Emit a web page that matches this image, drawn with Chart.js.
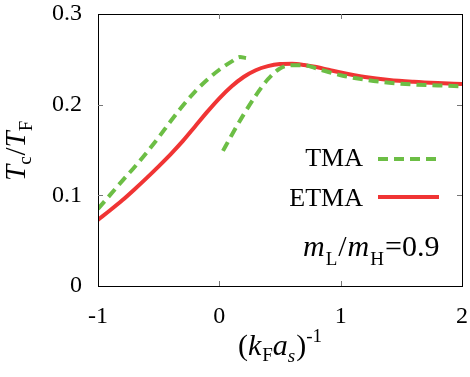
<!DOCTYPE html>
<html>
<head>
<meta charset="utf-8">
<script src="https://cdn.jsdelivr.net/npm/chart.js@4"></script>
</head>
<body style="margin:0">
<canvas id="chart" width="470" height="377"></canvas>
<script>
// ETMA curve
const etmaX = [-1, -0.9, -0.8, -0.7, -0.6, -0.5, -0.4, -0.3, -0.2, -0.1, 0, 0.1, 0.2, 0.3, 0.4, 0.5, 0.6, 0.7, 0.8, 0.9, 1.0, 1.2, 1.4, 1.6, 1.8, 2.0]
const etmaY = [0.073, 0.0835, 0.0945, 0.1065, 0.119, 0.132, 0.1455, 0.160, 0.176, 0.192, 0.207, 0.220, 0.2305, 0.238, 0.2425, 0.2448, 0.2452, 0.2438, 0.2415, 0.2385, 0.2355, 0.2305, 0.2272, 0.2252, 0.2238, 0.2228]
// TMA, two branches
const tmaUpperX = [-1, -0.9, -0.8, -0.7, -0.6, -0.5, -0.4, -0.3, -0.2, -0.1, 0, 0.1, 0.17, 0.22]
const tmaUpperY = [0.085, 0.1005, 0.116, 0.131, 0.147, 0.164, 0.182, 0.199, 0.2145, 0.2275, 0.2385, 0.2475, 0.2525, 0.2515]
const tmaLowerX = [0.03, 0.1, 0.2, 0.3, 0.4, 0.5, 0.6, 0.7, 0.8, 0.9, 1.0, 1.2, 1.4, 1.6, 1.8, 2.0]
const tmaLowerY = [0.149, 0.166, 0.189, 0.210, 0.228, 0.240, 0.2435, 0.2435, 0.240, 0.236, 0.2325, 0.2275, 0.2242, 0.2222, 0.2212, 0.2203]
const xTicks = [-1, 0, 1, 2]
const yTicks = [0, 0.1, 0.2, 0.3]

const green = '#6cbe45'
const red = '#f03434'
const fam = '"Liberation Serif"'

const pts = (xs, ys) => xs.map((x, i) => ({x: x, y: ys[i]}))

// draw a run of text pieces (italic / sub / sup), return width
function rich(ctx, parts, x, y, measureOnly) {
    let cx = x
    parts.forEach(p => {
        ctx.font = (p.it ? 'italic ' : '') + p.size + 'px ' + fam
        if (!measureOnly) ctx.fillText(p.t, cx, y + (p.dy || 0))
        cx += ctx.measureText(p.t).width + (p.gap || 0)
    })
    return cx - x
}

const decor = {
    id: 'decor',
    afterDatasetsDraw(chart) {
        const ctx = chart.ctx
        const a = chart.chartArea
        const xs = chart.scales.x, ys = chart.scales.y
        ctx.save()
        // frame
        ctx.strokeStyle = '#000'
        ctx.lineWidth = 1
        ctx.strokeRect(Math.round(a.left) + 0.5, Math.round(a.top) + 0.5, Math.round(a.right - a.left), Math.round(a.bottom - a.top))
        // inner ticks
        ctx.strokeStyle = '#777'
        ctx.beginPath()
        xTicks.slice(1, -1).forEach(v => {
            const px = Math.round(xs.getPixelForValue(v)) + 0.5
            ctx.moveTo(px, a.bottom); ctx.lineTo(px, a.bottom - 5)
            ctx.moveTo(px, a.top); ctx.lineTo(px, a.top + 5)
        })
        yTicks.slice(1, -1).forEach(v => {
            const py = Math.round(ys.getPixelForValue(v)) + 0.5
            ctx.moveTo(a.left, py); ctx.lineTo(a.left + 5, py)
            ctx.moveTo(a.right, py); ctx.lineTo(a.right - 5, py)
        })
        ctx.stroke()

        ctx.fillStyle = '#000'
        ctx.textBaseline = 'alphabetic'
        // legend
        ctx.font = '26px ' + fam
        ctx.textAlign = 'right'
        ctx.fillText('TMA', 363, 166)
        ctx.fillText('ETMA', 363, 206)
        ctx.textAlign = 'left'
        ctx.lineWidth = 4
        ctx.strokeStyle = green
        ctx.setLineDash([10, 6])
        ctx.beginPath(); ctx.moveTo(378, 159); ctx.lineTo(439, 159); ctx.stroke()
        ctx.setLineDash([])
        ctx.strokeStyle = red
        ctx.beginPath(); ctx.moveTo(378, 197); ctx.lineTo(439, 197); ctx.stroke()

        // m_L/m_H=0.9
        rich(ctx, [
            {t: 'm', it: true, size: 30, gap: 1},
            {t: 'L', size: 19, dy: 9, gap: 1},
            {t: '/', size: 30, gap: 1},
            {t: 'm', it: true, size: 30, gap: 1},
            {t: 'H', size: 19, dy: 9, gap: 1},
            {t: '=0.9', size: 30}
        ], 303, 256)

        // x title
        const xParts = [
            {t: '(', size: 30},
            {t: 'k', it: true, size: 30, gap: 1},
            {t: 'F', size: 19, dy: 6},
            {t: 'a', it: true, size: 30},
            {t: 's', it: true, size: 19, dy: 7, gap: 1},
            {t: ')', size: 30},
            {t: '-1', size: 19, dy: -13}
        ]
        const w = rich(ctx, xParts, 0, 0, true)
        rich(ctx, xParts, (a.left + a.right) / 2 - w / 2, 355)

        // y title
        ctx.translate(25, 181)
        ctx.rotate(-Math.PI / 2)
        rich(ctx, [
            {t: 'T', it: true, size: 29},
            {t: 'c', size: 19, dy: 6, gap: 1},
            {t: '/', size: 29},
            {t: 'T', it: true, size: 29},
            {t: 'F', size: 19, dy: 7}
        ], 0, 0)
        ctx.restore()
    }
}

new Chart(document.getElementById('chart'), {
    type: 'line',
    data: {
        datasets: [
            {
                label: 'TMA',
                data: pts(tmaUpperX, tmaUpperY),
                borderColor: green,
                borderWidth: 4,
                borderDash: [10, 6],
                pointRadius: 0,
                cubicInterpolationMode: 'monotone'
            },
            {
                label: 'TMA lower',
                data: pts(tmaLowerX, tmaLowerY),
                borderColor: green,
                borderWidth: 4,
                borderDash: [10, 6],
                pointRadius: 0,
                cubicInterpolationMode: 'monotone'
            },
            {
                label: 'ETMA',
                data: pts(etmaX, etmaY),
                borderColor: red,
                borderWidth: 4,
                pointRadius: 0,
                cubicInterpolationMode: 'monotone'
            }
        ]
    },
    options: {
        responsive: false,
        animation: false,
        layout: { padding: { top: 14, right: 8, left: 0, bottom: 0 } },
        plugins: {
            legend: { display: false },
            tooltip: { enabled: false }
        },
        scales: {
            x: {
                type: 'linear',
                min: -1,
                max: 2,
                grid: { display: false },
                border: { display: false },
                afterBuildTicks: s => { s.ticks = xTicks.map(v => ({value: v})) },
                afterFit: s => { s.height = 91; s.paddingLeft = 0; s.paddingRight = 0 },
                ticks: {
                    color: '#000',
                    padding: 8,
                    font: { family: fam, size: 24 },
                    maxRotation: 0,
                    callback: v => String(v)
                }
            },
            y: {
                min: 0,
                max: 0.3,
                grid: { display: false },
                border: { display: false },
                afterBuildTicks: s => { s.ticks = yTicks.map(v => ({value: v})) },
                afterFit: s => { s.width = 98; s.paddingTop = 0; s.paddingBottom = 0 },
                ticks: {
                    color: '#000',
                    padding: 8,
                    font: { family: fam, size: 24 },
                    callback: v => v === 0 ? '0' : v.toFixed(1)
                }
            }
        }
    },
    plugins: [decor]
})
</script>
</body>
</html>
